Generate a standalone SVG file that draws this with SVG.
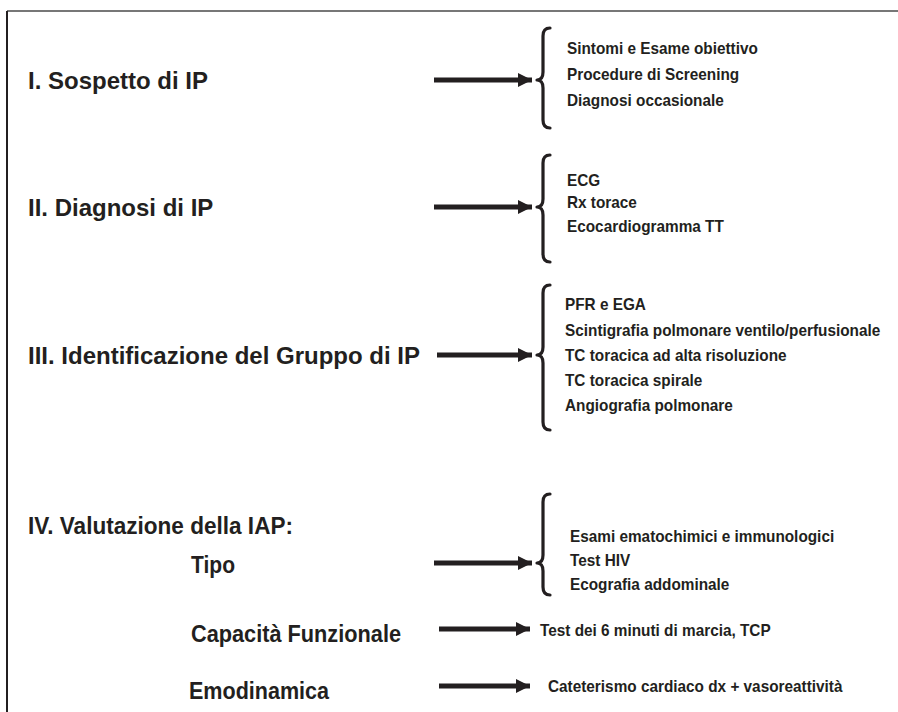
<svg xmlns="http://www.w3.org/2000/svg" width="898" height="712" viewBox="0 0 898 712">
<style>
.h{font-family:"Liberation Sans",Arial,sans-serif;font-weight:bold;font-size:24px;fill:#231f20}
.s{font-family:"Liberation Sans",Arial,sans-serif;font-weight:bold;font-size:16.5px;fill:#231f20}
.br{fill:none;stroke:#231f20;stroke-width:3.2;stroke-linecap:round;stroke-linejoin:round}
.ar{stroke:#231f20;stroke-width:5;fill:none}
</style>
<defs>
<marker id="ah" viewBox="0 0 10 10" refX="10" refY="5" markerWidth="2.8" markerHeight="2.8" markerUnits="strokeWidth" orient="auto">
<path d="M0,0 L10,5 L0,10 Z" fill="#231f20"/>
</marker>
</defs>
<rect width="898" height="712" fill="#fff"/>
<line x1="7" y1="11" x2="898" y2="11" stroke="#777" stroke-width="2"/>
<line x1="7" y1="11" x2="7" y2="712" stroke="#231f20" stroke-width="2"/>

<g id="n1"><text class="h" x="28" y="89">I. Sospetto di IP</text></g>
<g id="n1b">
<path class="br" d="M550,28 Q543,28 543,36 L543,72 Q543,80 537,80 Q543,80 543,88 L543,120 Q543,128 550,128"/>
<g transform="translate(567,0) scale(0.93,1)">
<text class="s" x="0" y="54">Sintomi e Esame obiettivo</text>
<text class="s" x="0" y="80">Procedure di Screening</text>
<text class="s" x="0" y="106">Diagnosi occasionale</text>
</g>
</g>

<g id="n2"><text class="h" x="28" y="216">II. Diagnosi di IP</text></g>
<g id="n2b">
<path class="br" d="M550,155 Q543,155 543,163 L543,199 Q543,207 537,207 Q543,207 543,215 L543,254 Q543,262 550,262"/>
<g transform="translate(567,0) scale(0.93,1)">
<text class="s" x="0" y="186">ECG</text>
<text class="s" x="0" y="208">Rx torace</text>
<text class="s" x="0" y="232">Ecocardiogramma TT</text>
</g>
</g>

<g id="n3"><text class="h" x="28" y="364">III. Identificazione del Gruppo di IP</text></g>
<g id="n3b">
<path class="br" d="M550,285 Q543,285 543,293 L543,347 Q543,355 537,355 Q543,355 543,363 L543,422 Q543,430 550,430"/>
<g transform="translate(565,0) scale(0.93,1)">
<text class="s" x="0" y="310">PFR e EGA</text>
<text class="s" x="0" y="336">Scintigrafia polmonare ventilo/perfusionale</text>
<text class="s" x="0" y="361">TC toracica ad alta risoluzione</text>
<text class="s" x="0" y="386">TC toracica spirale</text>
<text class="s" x="0" y="411">Angiografia polmonare</text>
</g>
</g>

<g id="n4"><text class="h" x="28" y="534" textLength="265" lengthAdjust="spacingAndGlyphs">IV. Valutazione della IAP:</text></g>
<g id="n4a"><text class="h" x="191" y="573" textLength="44" lengthAdjust="spacingAndGlyphs">Tipo</text></g>
<g id="n4b">
<path class="br" d="M550,494 Q543,494 543,502 L543,555 Q543,563 537,563 Q543,563 543,571 L543,587 Q543,595 550,595"/>
<g transform="translate(570,0) scale(0.93,1)">
<text class="s" x="0" y="542">Esami ematochimici e immunologici</text>
<text class="s" x="0" y="566">Test HIV</text>
<text class="s" x="0" y="590">Ecografia addominale</text>
</g>
</g>

<g id="n5"><text class="h" x="191" y="642" textLength="210" lengthAdjust="spacingAndGlyphs">Capacità Funzionale</text></g>
<g id="n5b"><g transform="translate(540,0) scale(0.93,1)"><text class="s" x="0" y="636">Test dei 6 minuti di marcia, TCP</text></g></g>

<g id="n6"><text class="h" x="189" y="699" textLength="140" lengthAdjust="spacingAndGlyphs">Emodinamica</text></g>
<g id="n6b"><g transform="translate(548,0) scale(0.93,1)"><text class="s" x="0" y="692">Cateterismo cardiaco dx + vasoreattività</text></g></g>

<g id="connectors">
<line class="ar" x1="434" y1="80" x2="532" y2="80" marker-end="url(#ah)"/>
<line class="ar" x1="434" y1="207" x2="532" y2="207" marker-end="url(#ah)"/>
<line class="ar" x1="437" y1="355" x2="532" y2="355" marker-end="url(#ah)"/>
<line class="ar" x1="434" y1="563" x2="532" y2="563" marker-end="url(#ah)"/>
<line class="ar" x1="439" y1="629" x2="530" y2="629" marker-end="url(#ah)"/>
<line class="ar" x1="439" y1="686" x2="530" y2="686" marker-end="url(#ah)"/>
</g>
</svg>
